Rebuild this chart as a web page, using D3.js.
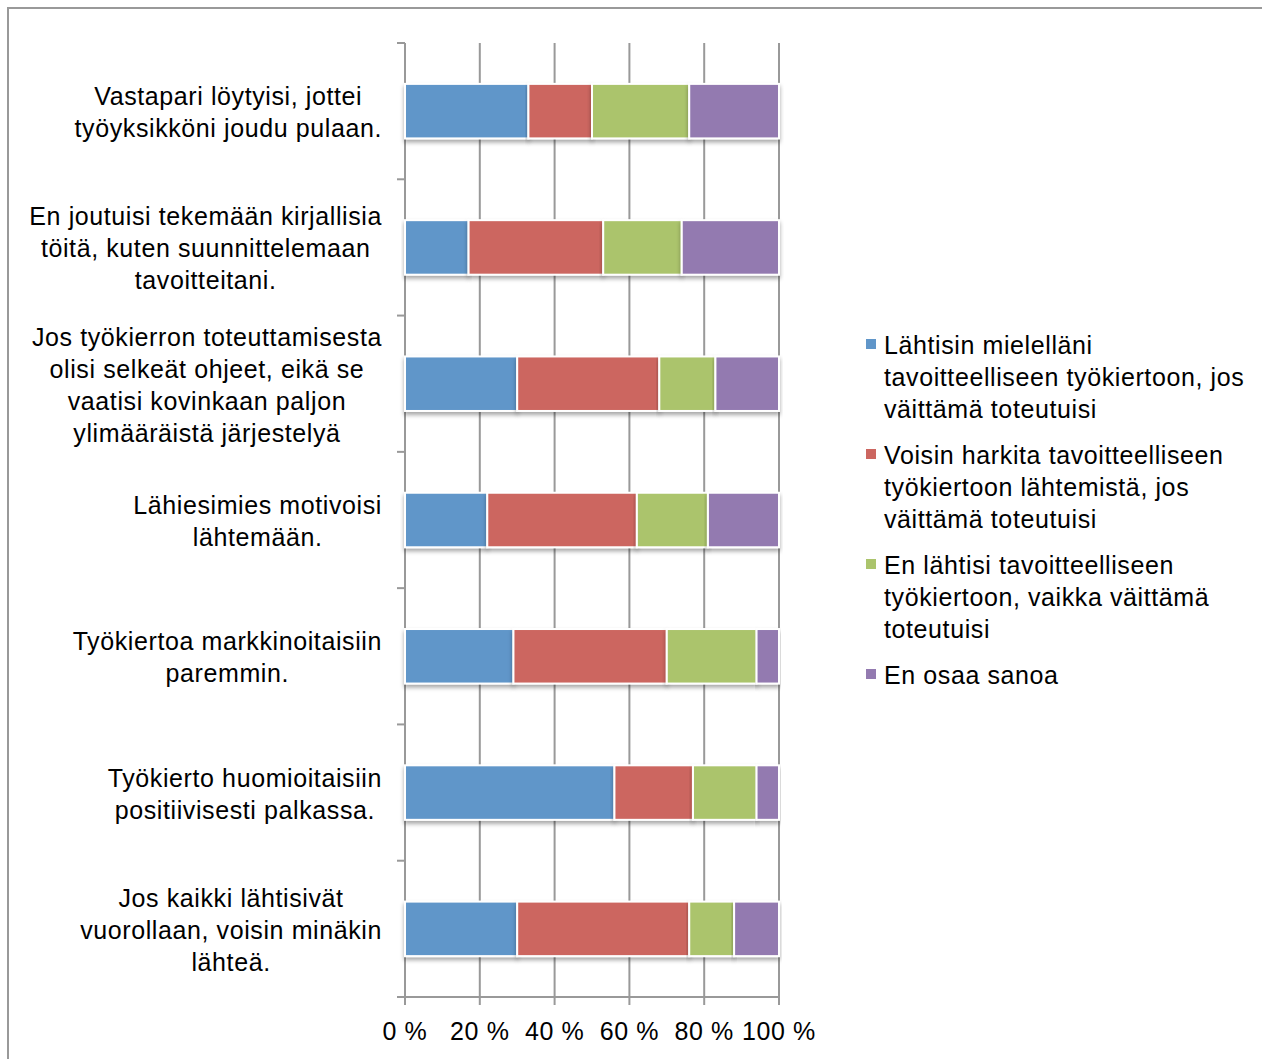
<!DOCTYPE html>
<html>
<head>
<meta charset="utf-8">
<script src="https://d3js.org/d3.v7.min.js"></script>
<style>
  body { margin: 0; background: #fff; }
  text { font-family: "Liberation Sans", Arial, sans-serif; fill: #000; }
</style>
</head>
<body>
<script>
const categories = [
  ["Vastapari löytyisi, jottei", "työyksikköni joudu pulaan."],
  ["En joutuisi tekemään kirjallisia", "töitä, kuten suunnittelemaan", "tavoitteitani."],
  ["Jos työkierron toteuttamisesta", "olisi selkeät ohjeet, eikä se", "vaatisi kovinkaan paljon", "ylimääräistä järjestelyä"],
  ["Lähiesimies motivoisi", "lähtemään."],
  ["Työkiertoa markkinoitaisiin", "paremmin."],
  ["Työkierto huomioitaisiin", "positiivisesti palkassa."],
  ["Jos kaikki lähtisivät", "vuorollaan, voisin minäkin", "lähteä."]
]
const seriesNames = [
  ["Lähtisin mielelläni", "tavoitteelliseen työkiertoon, jos", "väittämä toteutuisi"],
  ["Voisin harkita tavoitteelliseen", "työkiertoon lähtemistä, jos", "väittämä toteutuisi"],
  ["En lähtisi tavoitteelliseen", "työkiertoon, vaikka väittämä", "toteutuisi"],
  ["En osaa sanoa"]
]
const colors = ["#6096c9", "#cc6660", "#abc46c", "#937ab0"]
const lahtisin = [33, 17, 30, 22, 29, 56, 30]
const harkita  = [17, 36, 38, 40, 41, 21, 46]
const enLahtisi = [26, 21, 15, 19, 24, 17, 12]
const enOsaa   = [24, 26, 17, 19, 6, 6, 12]
const xTicks = [0, 20, 40, 60, 80, 100]

const width = 1262, height = 1059
const fontSize = "25px", spacing = "0.6px"
const svg = d3.select("body").append("svg")
  .attr("width", width).attr("height", height)

const defs = svg.append("defs")
defs.append("filter").attr("id", "shadow")
  .attr("x", "-5%").attr("y", "-20%").attr("width", "110%").attr("height", "160%")
  .append("feDropShadow")
  .attr("dx", 0).attr("dy", 3).attr("stdDeviation", 2)
  .attr("flood-color", "#000").attr("flood-opacity", 0.35)

// outer frame
svg.append("rect")
  .attr("x", 8).attr("y", 8).attr("width", 1400).attr("height", 1200)
  .attr("fill", "none").attr("stroke", "#999").attr("stroke-width", 2)

const plot = {left: 405, right: 779, top: 43, bottom: 997}

const x = d3.scaleLinear().domain([0, 100]).range([plot.left, plot.right])
const idx = d3.range(categories.length)
const y = d3.scaleBand().domain(idx).range([plot.top, plot.bottom]).paddingInner(0.6).paddingOuter(0.3)

// gridlines
svg.append("g")
  .selectAll("line")
  .data(xTicks.slice(1))
  .join("line")
  .attr("x1", d => x(d)).attr("x2", d => x(d))
  .attr("y1", plot.top).attr("y2", plot.bottom + 8)
  .attr("stroke", "#999").attr("stroke-width", 2)

// left axis with category separators
svg.append("line")
  .attr("x1", plot.left).attr("x2", plot.left)
  .attr("y1", plot.top).attr("y2", plot.bottom + 8)
  .attr("stroke", "#999").attr("stroke-width", 2)
const step = (plot.bottom - plot.top) / categories.length
svg.append("g")
  .selectAll("line")
  .data(d3.range(categories.length + 1))
  .join("line")
  .attr("x1", plot.left - 8).attr("x2", plot.left)
  .attr("y1", d => plot.top + d * step).attr("y2", d => plot.top + d * step)
  .attr("stroke", "#999").attr("stroke-width", 2)

// bottom axis
svg.append("line")
  .attr("x1", plot.left - 8).attr("x2", plot.right)
  .attr("y1", plot.bottom).attr("y2", plot.bottom)
  .attr("stroke", "#999").attr("stroke-width", 2)

svg.append("g")
  .selectAll("text")
  .data(xTicks)
  .join("text")
  .attr("x", d => x(d)).attr("y", 1040)
  .attr("text-anchor", "middle")
  .style("font-size", fontSize).style("letter-spacing", spacing)
  .text(d => d + " %")

// stacked bars
const rows = idx.map(i => ({i: i, vals: [lahtisin[i], harkita[i], enLahtisi[i], enOsaa[i]]}))
const stacked = d3.stack().keys([0, 1, 2, 3]).value((d, k) => d.vals[k])(rows)

svg.append("g")
  .selectAll("g")
  .data(stacked)
  .join("g")
  .attr("fill", (d, k) => colors[k])
  .selectAll("rect")
  .data(d => d)
  .join("rect")
  .attr("x", d => x(d[0]))
  .attr("width", d => x(d[1]) - x(d[0]))
  .attr("y", d => y(d.data.i))
  .attr("height", y.bandwidth())
  .attr("stroke", "#fff").attr("stroke-width", 2)
  .attr("filter", "url(#shadow)")

// category labels, each block centered on its widest line, right edge at 382
const labels = svg.append("g")
categories.forEach((lines, i) => {
  const cy = plot.top + (i + 0.5) * step
  const t = labels.append("text")
    .style("font-size", fontSize).style("letter-spacing", spacing)
    .attr("text-anchor", "middle")
  lines.forEach((ln, j) => {
    t.append("tspan")
      .attr("x", 0)
      .attr("y", cy + (j - (lines.length - 1) / 2) * 32 + 10)
      .text(ln)
  })
  const w = t.node().getBBox().width
  t.attr("transform", "translate(" + (382 - w / 2) + ",0)")
})

// legend
const legend = svg.append("g")
let ly = 345
seriesNames.forEach((lines, k) => {
  legend.append("rect")
    .attr("x", 866).attr("y", ly - 6).attr("width", 10).attr("height", 10)
    .attr("fill", colors[k])
  const t = legend.append("text").style("font-size", fontSize).style("letter-spacing", spacing)
  lines.forEach((ln, j) => {
    t.append("tspan").attr("x", 884).attr("y", ly + j * 32 + 9).text(ln)
  })
  ly += lines.length * 32 + 14
})
</script>
</body>
</html>
